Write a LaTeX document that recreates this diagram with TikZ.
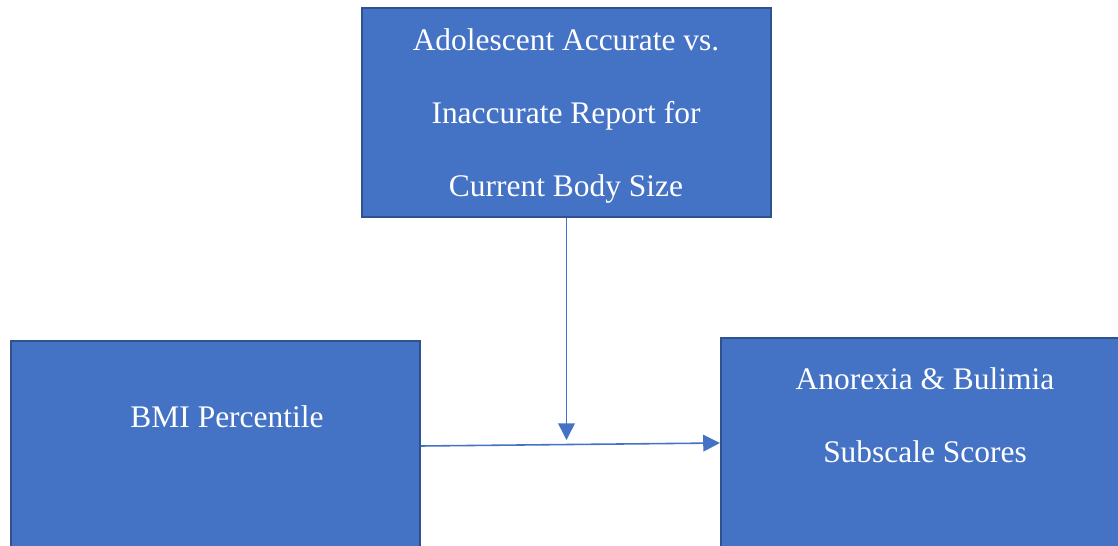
\documentclass[tikz,border=0pt]{standalone}
\usepackage{fontspec}
\setmainfont{Liberation Serif}
\usetikzlibrary{arrows.meta}
\definecolor{boxfill}{HTML}{4472C4}
\definecolor{boxedge}{HTML}{2F528F}
\definecolor{linkblue}{HTML}{4472C4}
\tikzset{
  box/.style={draw=boxedge, fill=boxfill, line width=1.3pt, inner sep=0pt},
  boxtext/.style={text=white, align=center, font=\fontsize{17.9}{41.4}\selectfont},
  link/.style={draw=linkblue, line width=0.9pt, -{Triangle[length=9.5pt,width=9.5pt]}}
}
\begin{document}
\begin{tikzpicture}[x=0.02cm, y=-0.02cm]
      \useasboundingbox (0,0) rectangle (1118,546);
      \clip (0,0) rectangle (1118,546);

      % the three boxes
      \node[box, minimum width=8.18cm, minimum height=4.18cm] (report) at (566.5,112.5) {};
      \node[box, minimum width=8.18cm, minimum height=4.2cm] (bmi) at (215.5,446) {};
      \node[box, minimum width=8.02cm, minimum height=4.2cm] (scores) at (921.5,443) {};

      % texts
      \node[boxtext] (reporttext) at (566,116) {Adolescent Accurate vs.\\Inaccurate Report for\\Current Body Size};
      \node[boxtext] (bmitext) at (227,417) {BMI Percentile};
      \node[boxtext] (scorestext) at (925,415) {Anorexia \& Bulimia\\Subscale Scores};

      % arrows
      \coordinate (meet) at (566.5,440);
      \draw[link] (report.south) -- (meet);
      \draw[link] (bmi.east) -- (scores.west);
\end{tikzpicture}
\end{document}
